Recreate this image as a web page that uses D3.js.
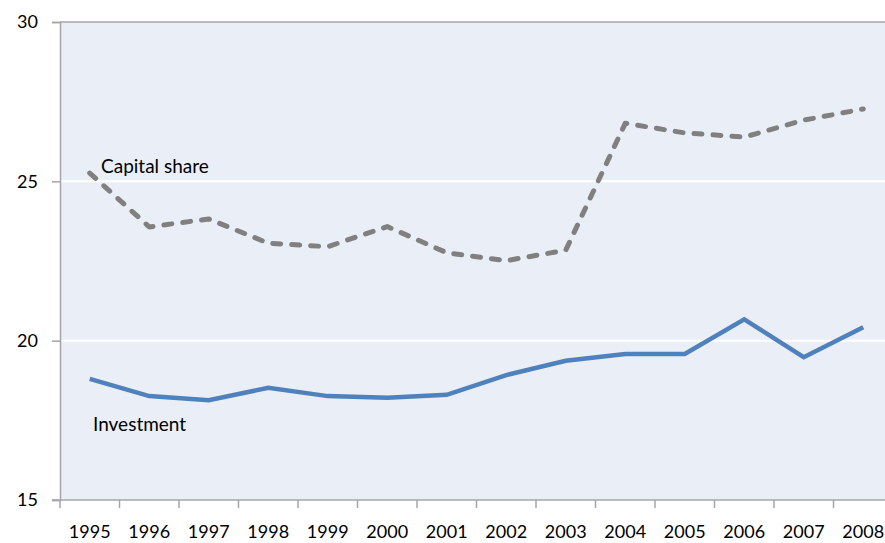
<!DOCTYPE html>
<html>
<head>
<meta charset="utf-8">
<script src="https://cdn.jsdelivr.net/npm/d3@7"></script>
<style>
html,body{margin:0;padding:0;background:#fff;}
svg{display:block;}
text{font-family:Lato, "Open Sans", sans-serif;fill:#000;}
</style>
</head>
<body>
<svg id="chart" width="885" height="543"></svg>
<script>
const years = ["1995","1996","1997","1998","1999","2000","2001","2002","2003","2004","2005","2006","2007","2008"];
const capitalShare = [25.26,23.57,23.82,23.06,22.95,23.58,22.76,22.51,22.84,26.82,26.52,26.39,26.92,27.27];
const investment = [18.80,18.26,18.13,18.52,18.26,18.21,18.30,18.92,19.37,19.58,19.58,20.67,19.48,20.42];
const yTicks = [15,20,25,30];
const seriesLabels = ["Capital share","Investment"];

const svg = d3.select("#chart");
const mLeft = 60, mRight = 893, mTop = 22, mBottom = 500;

const x = d3.scaleBand().domain(years).range([mLeft, mRight]).paddingInner(0).paddingOuter(0);
const y = d3.scaleLinear().domain([15,30]).range([mBottom, mTop]);
const cx = d => x(d) + x.bandwidth()/2;

// plot background
svg.append("rect").attr("x", mLeft).attr("y", mTop).attr("width", mRight-mLeft).attr("height", mBottom-mTop).attr("fill", "#EAEFF7");

// gridlines (inner white)
svg.append("g").selectAll("line").data(yTicks.filter(t => t>15 && t<30)).join("line")
  .attr("x1", mLeft).attr("x2", mRight).attr("y1", d => y(d)).attr("y2", d => y(d))
  .attr("stroke", "#fff").attr("stroke-width", 2);

// top border line
svg.append("line").attr("x1", mLeft).attr("x2", mRight).attr("y1", y(30)).attr("y2", y(30))
  .attr("stroke", "#A6A6A6").attr("stroke-width", 1.5);

// y axis
const yAxis = d3.axisLeft(y).tickValues(yTicks).tickSize(8).tickPadding(14).tickFormat(d3.format("d"));
const gy = svg.append("g").attr("transform", `translate(${mLeft},0)`).call(yAxis);
gy.select(".domain").attr("stroke", "#A6A6A6").attr("stroke-width", 1.5);
gy.selectAll(".tick line").attr("stroke", "#A6A6A6").attr("stroke-width", 1.5);
gy.selectAll(".tick text").attr("font-size", "18px").attr("font-family", "Lato, sans-serif").attr("fill", "#000");

// x axis
const gx = svg.append("g").attr("transform", `translate(0,${mBottom})`);
gx.append("line").attr("x1", mLeft-8).attr("x2", mRight).attr("y1", 0).attr("y2", 0)
  .attr("stroke", "#A6A6A6").attr("stroke-width", 1.5);
const boundaries = years.map(d => x(d)).concat([mRight]);
gx.selectAll("line.tk").data(boundaries).join("line").attr("class","tk")
  .attr("x1", d => d).attr("x2", d => d).attr("y1", 0).attr("y2", 8)
  .attr("stroke", "#A6A6A6").attr("stroke-width", 1.5);
gx.selectAll("text").data(years).join("text")
  .attr("x", d => cx(d)).attr("y", 38).attr("text-anchor", "middle")
  .attr("font-size", "18px").text(d => d);

// lines
const line = d3.line().x((d,i) => cx(years[i])).y(d => y(d));
svg.append("path").datum(capitalShare).attr("d", line)
  .attr("fill", "none").attr("stroke", "#808080").attr("stroke-width", 5)
  .attr("stroke-dasharray", "8 11").attr("stroke-linecap", "round").attr("stroke-linejoin", "round");
svg.append("path").datum(investment).attr("d", line)
  .attr("fill", "none").attr("stroke", "#4F81BD").attr("stroke-width", 4.5)
  .attr("stroke-linejoin", "miter");

// labels
svg.append("text").attr("x", 101).attr("y", 173).attr("font-size", "19px").text(seriesLabels[0]);
svg.append("text").attr("x", 93).attr("y", 431).attr("font-size", "19px").text(seriesLabels[1]);
</script>
</body>
</html>
